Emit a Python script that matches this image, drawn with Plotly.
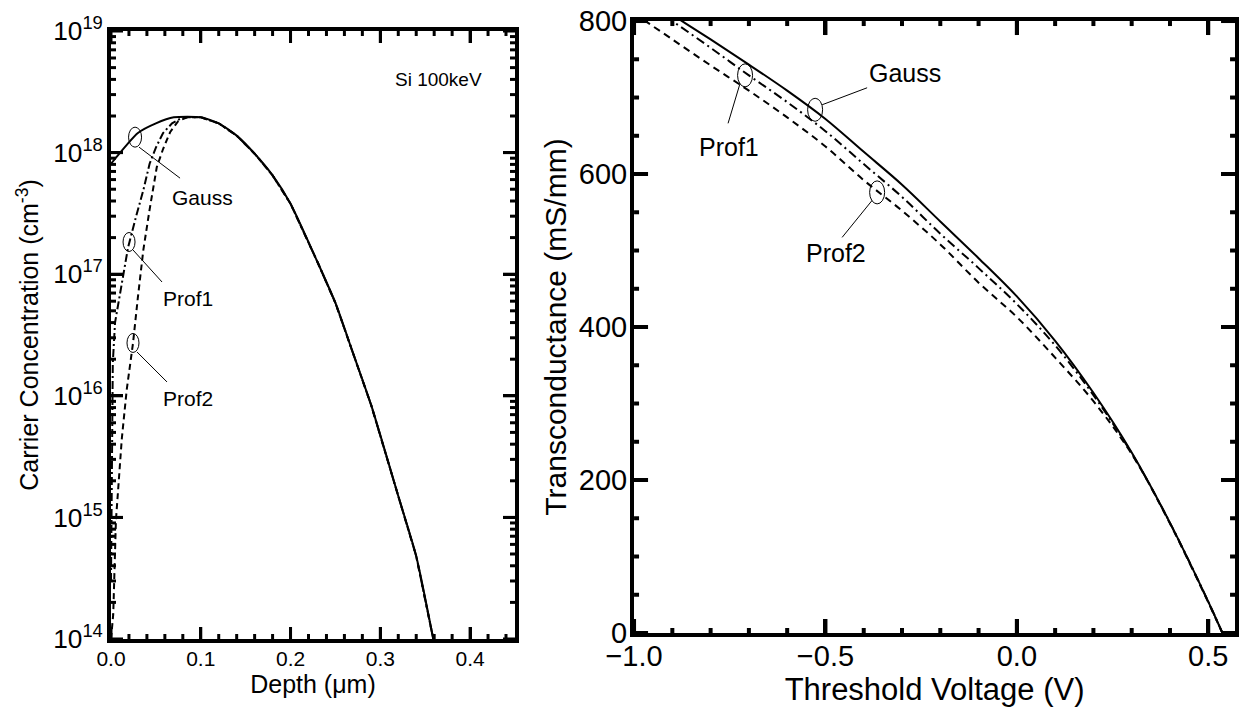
import plotly.graph_objects as go
import numpy as np

# ---------------- Left panel: carrier concentration vs depth ----------------
depth_gauss = [0.0, 0.03, 0.05, 0.07, 0.10, 0.12, 0.14, 0.16, 0.18, 0.20, 0.23,
               0.25, 0.27, 0.29, 0.32, 0.34, 0.359]
conc_gauss = [8.1e17, 1.45e18, 1.74e18, 1.95e18, 1.95e18, 1.74e18, 1.38e18, 9.8e17,
              6.5e17, 3.8e17, 1.26e17, 5.8e16, 2.2e16, 8.3e15, 1.5e15, 4.8e14, 1.0e14]

depth_prof1 = [0.0, 0.001, 0.002, 0.0045, 0.012, 0.019, 0.028, 0.036, 0.043, 0.05,
               0.058, 0.068, 0.077, 0.085, 0.10, 0.12, 0.14, 0.16, 0.18, 0.20, 0.23,
               0.25, 0.27, 0.29, 0.32, 0.34, 0.359]
conc_prof1 = [3.0e14, 4.0e15, 1.86e16, 4.0e16, 8.3e16, 1.66e17, 3.0e17, 4.9e17, 8.1e17,
              1.1e18, 1.45e18, 1.74e18, 1.9e18, 1.95e18, 1.95e18, 1.74e18, 1.38e18,
              9.8e17, 6.5e17, 3.8e17, 1.26e17, 5.8e16, 2.2e16, 8.3e15, 1.5e15, 4.8e14, 1.0e14]

depth_prof2 = [0.0, 0.0025, 0.0055, 0.008, 0.012, 0.0175, 0.0245, 0.030, 0.036, 0.043,
               0.051, 0.058, 0.066, 0.075, 0.085, 0.10, 0.12, 0.14, 0.16, 0.18, 0.20,
               0.23, 0.25, 0.27, 0.29, 0.32, 0.34, 0.359]
conc_prof2 = [1.0e14, 1.6e14, 9.5e14, 1.8e15, 4.4e15, 1.12e16, 2.7e16, 6.5e16, 1.58e17,
              3.4e17, 7.6e17, 1.07e18, 1.48e18, 1.82e18, 1.95e18, 1.95e18, 1.74e18,
              1.38e18, 9.8e17, 6.5e17, 3.8e17, 1.26e17, 5.8e16, 2.2e16, 8.3e15, 1.5e15,
              4.8e14, 1.0e14]

# ---------------- Right panel: transconductance vs threshold voltage ----------------
vth = [-1.0, -0.9, -0.8, -0.7, -0.6, -0.5, -0.4, -0.3, -0.2, -0.1, 0.0, 0.1, 0.2,
       0.3, 0.4, 0.5, 0.537]
gm_gauss = [840, 808, 776, 743, 709, 672, 629, 586, 538, 490, 440, 382, 314, 236,
            144, 41, 0]
gm_prof1 = [834, 800, 765, 729, 694, 656, 613, 570, 522, 477, 430, 376, 311, 235,
            144, 41, 0]
gm_prof2 = [810, 776, 742, 709, 674, 636, 592, 552, 508, 458, 413, 360, 303, 234,
            143, 40, 0]

# ---------------- axis tick values ----------------
left_x_major = [0.0, 0.1, 0.2, 0.3, 0.4]
left_x_minor = [round(0.02 * i, 2) for i in range(1, 23) if i % 5 != 0]
left_y_major = [10.0 ** n for n in range(14, 20)]
left_y_minor = [k * 10.0 ** n for n in range(14, 19) for k in range(2, 10)]
right_x_major = [-1.0, -0.5, 0.0, 0.5]
right_x_minor = [round(-1.0 + 0.1 * i, 1) for i in range(1, 16) if i % 5 != 0]
right_y_major = [0, 200, 400, 600, 800]
right_y_minor = [50 * i for i in range(1, 16) if i % 4 != 0]

FONT = "Arial, Liberation Sans, Helvetica, sans-serif"
BLACK = "black"
W, H = 1243, 713

LEFT_XDOM = [0.0893, 0.4143]
LEFT_YDOM = [0.1038, 0.9565]
LEFT_XRANGE = [0, 0.45]
LEFT_YRANGE = [14, 19]
RIGHT_XDOM = [0.5101, 0.9936]
RIGHT_YDOM = [0.1122, 0.9705]
RIGHT_XRANGE = [-1.0, 0.57]
RIGHT_YRANGE = [0, 800]

fig = go.Figure()

# left traces
fig.add_trace(go.Scatter(x=depth_gauss, y=conc_gauss, mode="lines", name="Gauss",
                         line=dict(color=BLACK, width=2, shape="spline", smoothing=0.6),
                         xaxis="x", yaxis="y"))
fig.add_trace(go.Scatter(x=depth_prof1, y=conc_prof1, mode="lines", name="Prof1",
                         line=dict(color=BLACK, width=2, dash="8px,3px,2px,3px"),
                         xaxis="x", yaxis="y"))
fig.add_trace(go.Scatter(x=depth_prof2, y=conc_prof2, mode="lines", name="Prof2",
                         line=dict(color=BLACK, width=2, dash="6px,4px"),
                         xaxis="x", yaxis="y"))

# right traces
fig.add_trace(go.Scatter(x=vth, y=gm_gauss, mode="lines", name="Gauss",
                         line=dict(color=BLACK, width=2, shape="spline"),
                         xaxis="x2", yaxis="y2"))
fig.add_trace(go.Scatter(x=vth, y=gm_prof1, mode="lines", name="Prof1",
                         line=dict(color=BLACK, width=2, shape="spline",
                                   dash="9px,4px,2px,4px"),
                         xaxis="x2", yaxis="y2"))
fig.add_trace(go.Scatter(x=vth, y=gm_prof2, mode="lines", name="Prof2",
                         line=dict(color=BLACK, width=2, shape="spline",
                                   dash="7px,5px"),
                         xaxis="x2", yaxis="y2"))


def to_paper(v, rng, dom, log=False):
    """Axis value -> paper fraction, following the axis' own linear/log scale."""
    t = np.log10(v) if log else v
    return dom[0] + (t - rng[0]) / (rng[1] - rng[0]) * (dom[1] - dom[0])


def paper_line(x0, y0, x1, y1, width):
    fig.add_shape(type="line", xref="paper", yref="paper", x0=x0, y0=y0, x1=x1, y1=y1,
                  line=dict(color=BLACK, width=width), layer="above")


def frame_ticks(xmaj, xmin, ymaj, ymin, xr, yr, xd, yd, ylog, maj, mnr, width):
    for vals, ln in ((xmaj, maj), (xmin, mnr)):
        for v in vals:
            px = to_paper(v, xr, xd)
            paper_line(px, yd[0], px, yd[0] + ln / H, width)
            paper_line(px, yd[1], px, yd[1] - ln / H, width)
    for vals, ln in ((ymaj, maj), (ymin, mnr)):
        for v in vals:
            py = to_paper(v, yr, yd, ylog)
            paper_line(xd[0], py, xd[0] + ln / W, py, width)
            paper_line(xd[1], py, xd[1] - ln / W, py, width)


frame_ticks(left_x_major, left_x_minor, left_y_major, left_y_minor,
            LEFT_XRANGE, LEFT_YRANGE, LEFT_XDOM, LEFT_YDOM, True, 12, 5, 3)
frame_ticks(right_x_major, right_x_minor, right_y_major, right_y_minor,
            RIGHT_XRANGE, RIGHT_YRANGE, RIGHT_XDOM, RIGHT_YDOM, False, 14, 5, 4)

axis_common = dict(showline=True, linecolor=BLACK, linewidth=4, mirror="allticks",
                   ticks="inside", tickcolor=BLACK, showgrid=False, zeroline=False,
                   automargin=False)

fig.update_layout(
    template="none",
    width=W, height=H,
    margin=dict(l=0, r=0, t=0, b=0, pad=0),
    paper_bgcolor="white", plot_bgcolor="white",
    showlegend=False,
    font=dict(family=FONT, color=BLACK),
    # ---- left panel ----
    xaxis=dict(domain=LEFT_XDOM, anchor="y", range=LEFT_XRANGE,
               tickvals=left_x_major, tickformat=".1f", ticklen=12, tickwidth=3,
               tickfont=dict(size=21), ticklabelstandoff=-2,
               title=dict(text="Depth (\u03bcm)", font=dict(size=25), standoff=6),
               **axis_common),
    yaxis=dict(domain=LEFT_YDOM, anchor="x", type="log", range=LEFT_YRANGE,
               dtick=1, exponentformat="power", ticklen=12, tickwidth=3,
               tickfont=dict(size=21),
               title=dict(text="Carrier Concentration (cm<sup>-3</sup>)",
                          font=dict(size=25), standoff=8),
               **axis_common),
    # ---- right panel ----
    xaxis2=dict(domain=RIGHT_XDOM, anchor="y2", range=RIGHT_XRANGE,
                tickvals=right_x_major, tickformat=".1f", ticklen=14, tickwidth=4,
                tickfont=dict(size=29), ticklabelstandoff=-6,
                title=dict(text="Threshold Voltage (V)", font=dict(size=31), standoff=4),
                **axis_common),
    yaxis2=dict(domain=RIGHT_YDOM, anchor="x2", range=RIGHT_YRANGE,
                tickvals=right_y_major, ticklen=14, tickwidth=4,
                tickfont=dict(size=29), ticklabelstandoff=-3,
                title=dict(text="Transconductance (mS/mm)", font=dict(size=30),
                           standoff=4),
                **axis_common),
)

# ---- callout ellipses, leader lines and labels ----
callouts = [
    ("L", 0.0268, 1.34e18, 13, 20, (4, -10), (45, -41), "Gauss", (67, -60), 21),
    ("L", 0.0201, 1.84e17, 12, 19, (4, -8), (33, -40), "Prof1", (59, -56), 21),
    ("L", 0.0245, 2.72e16, 12, 19, (4, -9), (34, -39), "Prof2", (55, -56), 21),
    ("R", -0.710, 729, 15, 23, (-5, -8), (-17, -48), "Prof1", (-16, -72), 25),
    ("R", -0.527, 684, 15, 23, (7, 5), (52, 22), "Gauss", (90, 37), 25),
    ("R", -0.365, 576, 15, 23, (-5, -8), (-35, -45), "Prof2", (-41, -61), 25),
]
for panel, cx, cy, w, h, p0, p1, label, shift, fs in callouts:
    if panel == "L":
        xr, yr, ya = "x", "paper", to_paper(cy, LEFT_YRANGE, LEFT_YDOM, True)
        ann_y, ann_yref = np.log10(cy), "y"
    else:
        xr, yr, ya = "x2", "y2", cy
        ann_y, ann_yref = cy, "y2"
    fig.add_shape(type="circle", xref=xr, yref=yr, xsizemode="pixel", ysizemode="pixel",
                  xanchor=cx, yanchor=ya, x0=-w / 2, x1=w / 2, y0=-h / 2, y1=h / 2,
                  line=dict(color=BLACK, width=1))
    fig.add_shape(type="line", xref=xr, yref=yr, xsizemode="pixel", ysizemode="pixel",
                  xanchor=cx, yanchor=ya, x0=p0[0], y0=p0[1], x1=p1[0], y1=p1[1],
                  line=dict(color=BLACK, width=1))
    fig.add_annotation(x=cx, y=ann_y, xref=xr, yref=ann_yref, text=label,
                       showarrow=False, xshift=shift[0], yshift=shift[1],
                       font=dict(size=fs, family=FONT, color=BLACK))

fig.add_annotation(x=0.3645, y=18.6, xref="x", yref="y", text="Si 100keV",
                   showarrow=False, font=dict(size=19, family=FONT, color=BLACK))

fig.write_html("out.html")
